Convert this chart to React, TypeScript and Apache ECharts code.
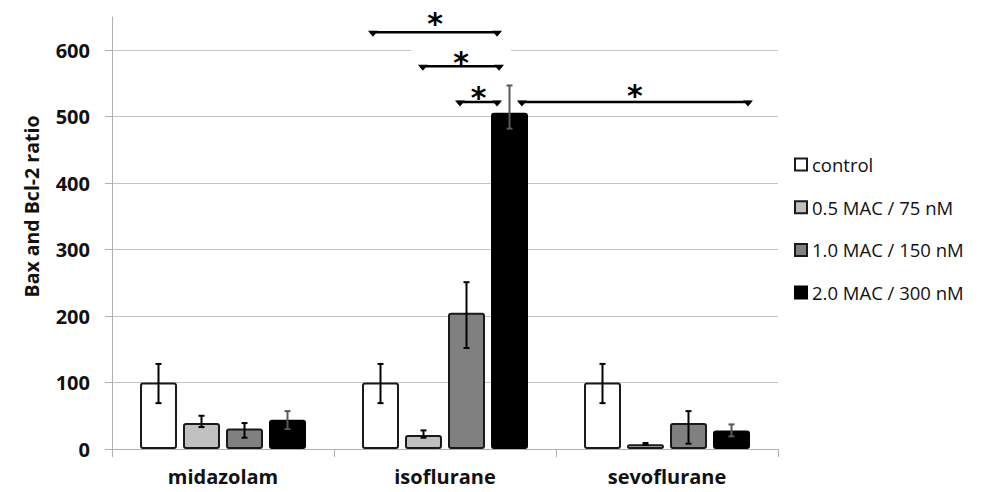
import React, { useEffect, useRef } from 'react';
import * as echarts from 'echarts';

// ---------- data ----------
const categories = ['midazolam', 'isoflurane', 'sevoflurane'];
const seriesNames = ['control', '0.5 MAC / 75 nM', '1.0 MAC / 150 nM', '2.0 MAC / 300 nM'];

const controlValues = [100, 100, 100];
const mac05Values = [39, 21, 7];
const mac10Values = [31, 205, 39];
const mac20Values = [44, 506, 28];

// error bar lows / highs per series (per category)
const controlErrLow = [69, 69, 69];
const controlErrHigh = [128, 128, 128];
const mac05ErrLow = [33, 17, 6];
const mac05ErrHigh = [50, 28, 9];
const mac10ErrLow = [17, 152, 8];
const mac10ErrHigh = [39, 251, 57];
const mac20ErrLow = [30, 482, 19];
const mac20ErrHigh = [57, 547, 37];

// significance brackets: start / end on a 0..3 category-span scale, level in y units
const bracketStart = [1.153, 1.378, 1.545, 1.824];
const bracketEnd = [1.757, 1.766, 1.757, 2.887];
const bracketLevel = [627, 576, 522, 522];
const bracketLabelLevel = [650, 590, 538, 541];
const bracketLabel = ['*', '*', '*', '*'];

const yTicks = [0, 100, 200, 300, 400, 500, 600];

// ---------- styles ----------
const FONT = '"Open Sans", "Noto Sans", sans-serif';
const BAR_W = 37;
const BAR_GAP = 6;
const fills = ['#ffffff', '#c0c0c0', '#808080', '#000000'];
const borders = ['#1a1a1a', '#1a1a1a', '#1a1a1a', '#000000'];
const errColors = ['#000000', '#000000', '#000000', '#595959'];

export default function App() {
  const ref = useRef<HTMLDivElement>(null);

  useEffect(() => {
    if (!ref.current) return;
    const chart = echarts.init(ref.current, undefined, { renderer: 'svg' });

    const values = [controlValues, mac05Values, mac10Values, mac20Values];
    const lows = [controlErrLow, mac05ErrLow, mac10ErrLow, mac20ErrLow];
    const highs = [controlErrHigh, mac05ErrHigh, mac10ErrHigh, mac20ErrHigh];

    const barSeries = seriesNames.map((name, i) => ({
      name,
      type: 'bar',
      xAxisIndex: 0,
      yAxisIndex: 0,
      data: values[i],
      barWidth: BAR_W,
      barGap: ((BAR_GAP / BAR_W) * 100).toFixed(2) + '%',
      itemStyle: {
        color: fills[i],
        borderColor: borders[i],
        borderWidth: 2,
        borderRadius: 2,
      },
      z: 2,
    }));

    const errData: number[][] = [];
    seriesNames.forEach((_, s) => {
      categories.forEach((_, c) => {
        errData.push([c, lows[s][c], highs[s][c], s]);
      });
    });

    const errSeries = {
      type: 'custom',
      xAxisIndex: 0,
      yAxisIndex: 0,
      z: 5,
      silent: true,
      data: errData,
      renderItem: (params: any, api: any) => {
        const c = api.value(0);
        const lo = api.value(1);
        const hi = api.value(2);
        const s = api.value(3);
        const base = api.coord([c, 0]);
        const x = base[0] + (s - 1.5) * (BAR_W + BAR_GAP);
        const yLo = api.coord([c, lo])[1];
        const yHi = api.coord([c, hi])[1];
        const style = { stroke: errColors[s], lineWidth: 2, fill: 'none' };
        return {
          type: 'group',
          children: [
            { type: 'line', shape: { x1: x, y1: yLo, x2: x, y2: yHi }, style },
            { type: 'line', shape: { x1: x - 3, y1: yLo, x2: x + 3, y2: yLo }, style },
            { type: 'line', shape: { x1: x - 3, y1: yHi, x2: x + 3, y2: yHi }, style },
          ],
        };
      },
    };

    const bracketData = bracketStart.map((s, i) => [s, bracketEnd[i], bracketLevel[i], bracketLabelLevel[i], i]);

    const bracketSeries = {
      type: 'custom',
      xAxisIndex: 1,
      yAxisIndex: 0,
      z: 3,
      clip: false,
      silent: true,
      data: bracketData,
      renderItem: (params: any, api: any) => {
        const p1 = api.coord([api.value(0), api.value(2)]);
        const p2 = api.coord([api.value(1), api.value(2)]);
        const ly = api.coord([api.value(0), api.value(3)])[1];
        const idx = api.value(4);
        const y = p1[1];
        const x1 = p1[0];
        const x2 = p2[0];
        const cx = (x1 + x2) / 2;
        return {
          type: 'group',
          children: [
            {
              type: 'rect',
              shape: { x: cx - 50, y: ly - 10, width: 100, height: 14 },
              style: { fill: '#ffffff' },
            },
            {
              type: 'line',
              shape: { x1: x1 + 2, y1: y, x2: x2 - 2, y2: y },
              style: { stroke: '#000', lineWidth: 2.5 },
            },
            {
              type: 'polygon',
              shape: { points: [[x1, y - 1.5], [x1 + 10, y - 1.5], [x1 + 5, y + 4.5]] },
              style: { fill: '#000' },
            },
            {
              type: 'polygon',
              shape: { points: [[x2 - 10, y - 1.5], [x2, y - 1.5], [x2 - 5, y + 4.5]] },
              style: { fill: '#000' },
            },
            {
              type: 'text',
              x: cx,
              y: ly + 6,
              style: {
                text: bracketLabel[idx],
                fill: '#000',
                font: 'bold 30px "DejaVu Sans", sans-serif',
                align: 'center',
                verticalAlign: 'middle',
              },
            },
          ],
        };
      },
    };

    chart.setOption({
      animation: false,
      backgroundColor: '#ffffff',
      grid: { left: 112, right: 207, top: 17, bottom: 43, containLabel: false },
      legend: {
        orient: 'vertical',
        left: 794,
        top: 155,
        padding: 0,
        icon: 'rect',
        itemWidth: 12,
        itemHeight: 12,
        itemGap: 23.7,
        data: seriesNames,
        textStyle: { fontFamily: FONT, fontSize: 18.5, color: '#111', lineHeight: 19 },
        selectedMode: false,
      },
      xAxis: [
        {
          type: 'category',
          data: categories,
          axisLine: { show: true, lineStyle: { color: '#b0b0b0', width: 1 } },
          axisTick: { show: true, length: 8, lineStyle: { color: '#b0b0b0' } },
          axisLabel: {
            margin: 17,
            fontFamily: FONT,
            fontWeight: 'bold',
            fontSize: 20,
            color: '#111',
          },
        },
        { type: 'value', min: 0, max: 3, show: false },
      ],
      yAxis: {
        type: 'value',
        min: 0,
        max: 650,
        interval: 100,
        axisLine: { show: true, lineStyle: { color: '#b0b0b0', width: 1 } },
        axisTick: { show: true, length: 7, lineStyle: { color: '#b0b0b0' } },
        splitLine: { show: true, showMaxLine: false, lineStyle: { color: '#c4c4c4', width: 1 } },
        axisLabel: {
          showMaxLabel: false,
          margin: 22,
          fontFamily: FONT,
          fontWeight: 'bold',
          fontSize: 20,
          color: '#111',
          formatter: (v: number) => (yTicks.includes(v) ? String(v) : ''),
        },
      },
      graphic: [
        {
          type: 'text',
          x: 31,
          y: 206.5,
          rotation: Math.PI / 2,
          style: {
            text: 'Bax and Bcl-2 ratio',
            font: `bold 19.5px ${FONT}`,
            fill: '#111',
            align: 'center',
            verticalAlign: 'middle',
          },
        },
      ],
      series: [...barSeries, errSeries, bracketSeries],
    });

    return () => chart.dispose();
  }, []);

  return <div ref={ref} style={{ width: 985, height: 492, position: 'absolute', left: 0, top: 0 }} />;
}
